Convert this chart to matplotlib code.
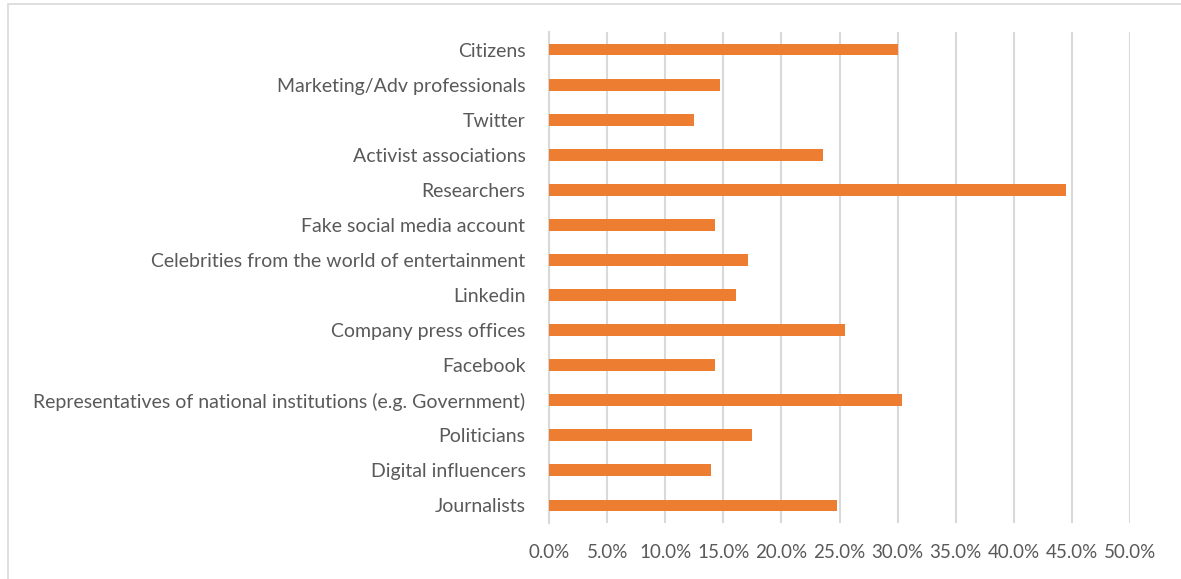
import matplotlib
matplotlib.use("Agg")
import matplotlib.pyplot as plt
from matplotlib.patches import Rectangle
from matplotlib.ticker import FuncFormatter

categories = [
    "Journalists",
    "Digital influencers",
    "Politicians",
    "Representatives of national institutions (e.g. Government)",
    "Facebook",
    "Company press offices",
    "Linkedin",
    "Celebrities from the world of entertainment",
    "Fake social media account",
    "Researchers",
    "Activist associations",
    "Twitter",
    "Marketing/Adv professionals",
    "Citizens",
]
values = [24.8, 13.9, 17.5, 30.4, 14.3, 25.5, 16.1, 17.1, 14.3, 44.5, 23.6, 12.5, 14.7, 30.0]
ticks = [0, 5, 10, 15, 20, 25, 30, 35, 40, 45, 50]

plt.rcParams["font.family"] = ["Lato", "DejaVu Sans"]
text_color = "#595959"
grid_color = "#D9D9D9"
bar_color = "#ED7D31"

W, H = 1181, 579
fig = plt.figure(figsize=(W / 100, H / 100), dpi=100)
ax = fig.add_axes([549 / W, 1 - 523 / H, (1130 - 549) / W, (523 - 32) / H])

y = range(len(categories))
ax.barh(y, values, height=0.34, color=bar_color, zorder=3)

ax.set_xlim(0, 50)
ax.set_ylim(-0.5, len(categories) - 0.5)
ax.set_xticks(ticks)
ax.xaxis.set_major_formatter(FuncFormatter(lambda v, p: f"{v:.1f}%"))
ax.set_yticks(list(y))
ax.set_yticklabels(categories)
ax.tick_params(axis="both", length=0, colors=text_color)
ax.tick_params(axis="x", pad=15, labelsize=13.5)
ax.tick_params(axis="y", pad=17, labelsize=14)
ax.grid(axis="x", color=grid_color, linewidth=1.5, zorder=0)
for side in ("top", "right", "bottom"):
    ax.spines[side].set_visible(False)
ax.spines["left"].set_color(grid_color)
ax.spines["left"].set_linewidth(1.5)

# light outline framing the chart area (right and bottom edges fall off the canvas)
fig.patches.append(Rectangle((7.5 / W, -0.1), 1.2, 1.1 - 4.5 / H,
                             transform=fig.transFigure, fill=False,
                             edgecolor="#D9D9D9", linewidth=1.2))

fig.savefig("out.png", dpi=100)
